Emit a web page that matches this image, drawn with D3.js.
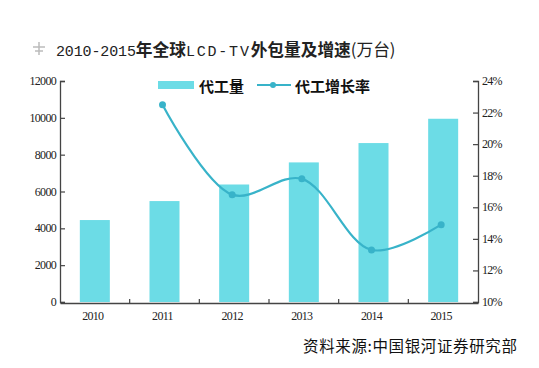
<!DOCTYPE html>
<html><head><meta charset="utf-8">
<script src="https://cdn.jsdelivr.net/npm/d3@7"></script>
<style>body{margin:0;background:#fff}svg{display:block}</style>
</head><body>
<svg id="c" width="539" height="368"></svg>
<script>
const years = ["2010","2011","2012","2013","2014","2015"];
const volume = [4450, 5480, 6380, 7580, 8630, 9950];
const growthYears = ["2011","2012","2013","2014","2015"];
const growth = [22.5, 16.8, 17.8, 13.3, 14.9];
const leftTicks = [0,2000,4000,6000,8000,10000,12000];
const rightTicks = [10,12,14,16,18,20,22,24];

const svg = d3.select("#c");
const L = 60, R = 478, T = 81, B = 302;
const axisCol = "#444";
const barCol = "#6cdce6", lineCol = "#38b3c9";

const x = d3.scaleBand().domain(years).range([L, R]);
const yL = d3.scaleLinear().domain([0, 12000]).range([B, T]);
const yR = d3.scaleLinear().domain([10, 24]).range([B, T]);

// bars
const bw = 30;
svg.append("g").selectAll("rect").data(years).join("rect")
  .attr("x", d => x(d) + x.bandwidth()/2 - bw/2)
  .attr("y", (d,i) => yL(volume[i]))
  .attr("width", bw)
  .attr("height", (d,i) => B - yL(volume[i]))
  .attr("fill", barCol);

// axes
const gL = svg.append("g").attr("transform", `translate(${L},0)`)
  .call(d3.axisRight(yL).tickValues(leftTicks).tickSize(5).tickFormat(""));
const gR = svg.append("g").attr("transform", `translate(${R},0)`)
  .call(d3.axisLeft(yR).tickValues(rightTicks).tickSize(5).tickFormat(""));
[gL, gR].forEach(g => { g.select(".domain").attr("stroke", axisCol).attr("stroke-width", 1.3);
  g.selectAll(".tick line").attr("stroke", axisCol).attr("stroke-width", 1.2); });

const tickFont = "12px 'Liberation Serif'";
// left labels
svg.append("g").selectAll("text").data(leftTicks).join("text")
  .attr("x", L - 4).attr("y", d => yL(d) + 4)
  .attr("text-anchor", "end")
  .style("font", tickFont).style("letter-spacing", "-0.7px")
  .attr("fill", "#222").text(d => d);
// right labels
svg.append("g").selectAll("text").data(rightTicks).join("text")
  .attr("x", R + 4).attr("y", d => yR(d) + 4)
  .style("font", tickFont).style("letter-spacing", "-0.7px")
  .attr("fill", "#222").text(d => d + "%");

// x axis
const gX = svg.append("g").attr("transform", `translate(0,${B+1})`)
  .call(d3.axisBottom(x).tickSize(0).tickFormat(""));
gX.select(".domain").attr("stroke", axisCol).attr("stroke-width", 1.3);
svg.append("g").selectAll("line").data(years.slice(1)).join("line")
  .attr("x1", d => x(d)).attr("x2", d => x(d))
  .attr("y1", B + 1).attr("y2", B - 3)
  .attr("stroke", axisCol).attr("stroke-width", 1.2);
svg.append("g").selectAll("text").data(years).join("text")
  .attr("x", d => x(d) + x.bandwidth()/2 - 2).attr("y", 320)
  .attr("text-anchor", "middle")
  .style("font", tickFont).style("letter-spacing", "-0.7px")
  .attr("fill", "#222").text(d => d);

// line
const line = d3.line()
  .x((d,i) => x(growthYears[i]) + x.bandwidth()/2 - 2)
  .y(d => yR(d))
  .curve(d3.curveCatmullRom.alpha(0.5));
svg.append("path").datum(growth).attr("d", line)
  .attr("fill", "none").attr("stroke", lineCol).attr("stroke-width", 2.2);
svg.append("g").selectAll("circle").data(growth).join("circle")
  .attr("cx", (d,i) => x(growthYears[i]) + x.bandwidth()/2 - 2)
  .attr("cy", d => yR(d)).attr("r", 3.5).attr("fill", lineCol);

// legend
svg.append("rect").attr("x", 158).attr("y", 81).attr("width", 36).attr("height", 8).attr("fill", barCol);
svg.append("text").attr("x", 199).attr("y", 92)
  .style("font", "bold 15px 'Noto Sans CJK SC'").attr("fill", "#111").text("代工量");
svg.append("line").attr("x1", 257).attr("x2", 291).attr("y1", 85).attr("y2", 85)
  .attr("stroke", lineCol).attr("stroke-width", 2);
svg.append("circle").attr("cx", 273).attr("cy", 85).attr("r", 3).attr("fill", lineCol);
svg.append("text").attr("x", 295).attr("y", 92)
  .style("font", "bold 15px 'Noto Sans CJK SC'").attr("fill", "#111").text("代工增长率");

// title
const icon = svg.append("g").attr("stroke", "#bbb").attr("stroke-width", 1.5).attr("fill", "none");
icon.append("line").attr("x1", 33).attr("x2", 45).attr("y1", 47).attr("y2", 47);
icon.append("line").attr("x1", 35).attr("x2", 43).attr("y1", 51).attr("y2", 51);
icon.append("line").attr("x1", 39).attr("x2", 39).attr("y1", 42).attr("y2", 55);
const t = svg.append("text").attr("x", 56).attr("y", 56).attr("fill", "#222");
t.append("tspan").style("font", "15px 'Liberation Mono'").attr("textLength", 80).text("2010-2015");
t.append("tspan").style("font", "bold 16.7px 'Noto Sans CJK SC'").text("年全球");
t.append("tspan").style("font", "15px 'Liberation Mono'").attr("textLength", 63).text("LCD-TV");
t.append("tspan").style("font", "bold 16.7px 'Noto Sans CJK SC'").text("外包量及增速");
t.append("tspan").style("font", "16.7px 'Noto Sans CJK SC'").text("(万台)");

// source
svg.append("text").attr("x", 303).attr("y", 352).attr("textLength", 214)
  .style("font", "15.5px 'Noto Sans CJK SC'").attr("fill", "#111").text("资料来源:中国银河证券研究部");
</script>
</body></html>
